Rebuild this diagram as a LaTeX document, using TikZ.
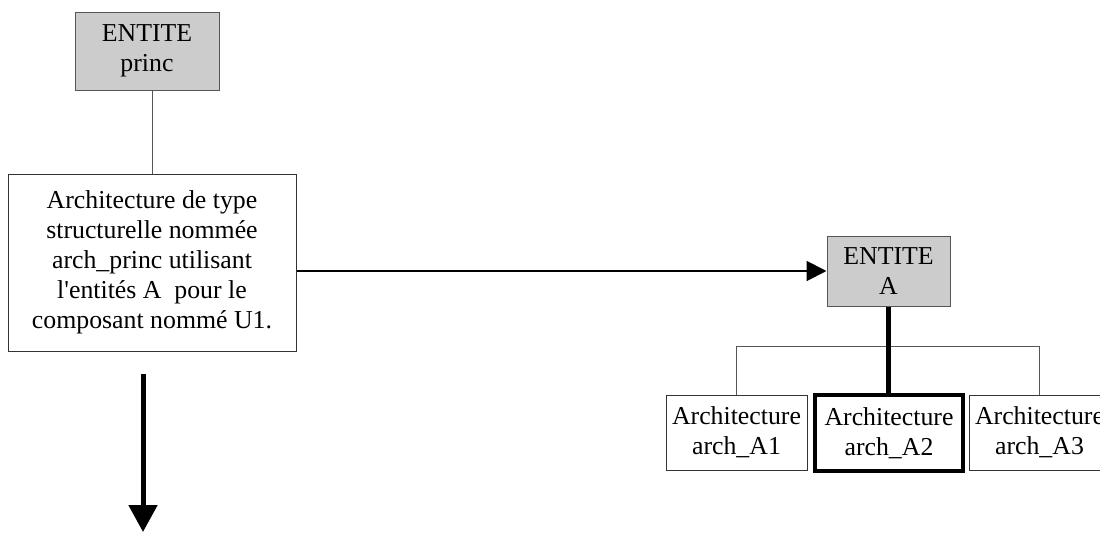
\documentclass[tikz,border=0pt]{standalone}
\usepackage{fontspec}
\setmainfont{Liberation Serif}[Ligatures=TeXOff]
\usepackage{tikz}
\usetikzlibrary{arrows.meta,positioning,calc}

\definecolor{entgray}{HTML}{CCCCCC}
\definecolor{edgegray}{HTML}{555555}

\tikzset{
  entite/.style={draw=edgegray,line width=0.5pt,fill=entgray,align=center,inner sep=0pt},
  archi/.style={draw=black!80,line width=0.5pt,fill=white,align=center,inner sep=0pt},
  archsel/.style={draw=black,line width=2pt,fill=white,align=center,inner sep=0pt},
  lien/.style={draw=edgegray,line width=0.5pt}
}

\begin{document}
\begin{tikzpicture}[x=0.5pt,y=0.5pt,font=\fontsize{12.9}{15}\selectfont]
\useasboundingbox (0,0) rectangle (1100,532);

% Entites
\node[entite,minimum width=72pt,minimum height=39pt] (princ) at (147,481) {ENTITE\\princ};
\node[entite,minimum width=61.5pt,minimum height=35pt] (entA) at (888.5,261) {ENTITE\\A};

% Architecture principale
\node[archi,minimum width=144pt,minimum height=88.5pt] (archp) at (152,269.5)
  {Architecture de type\\structurelle nomm\'ee\\arch\_princ utilisant\\l'entit\'es A\ \ pour le\\composant nomm\'e U1.};

% Architectures de A
\node[archi,minimum width=70.5pt,minimum height=37.5pt] (archA1) at (736.5,99.5) {Architecture\\arch\_A1};
\node[archsel,minimum width=74pt,minimum height=38pt] (archA2) at (889,99) {Architecture\\arch\_A2};
\node[archi,minimum width=70.5pt,minimum height=37.5pt] (archA3) at (1039.5,99.5) {Architecture\\arch\_A3};

% Liens
\draw[lien] (archp.north) -- (archp.north |- princ.south);
\draw[line width=1pt,-{Triangle[length=10pt,width=10pt]}] (archp.east |- entA.west) -- (entA.west);
\draw[lien] (archA1.north) -- ++(0,48) -| (archA3.north);
\draw[line width=2.5pt] (entA.south) -- (entA.south |- archA2.north);

% Fleche vers le bas
\coordinate (bas0) at (143,158);
\coordinate (bas1) at (143,0);
\draw[line width=2.5pt,-{Triangle[length=13.5pt,width=14pt]}] (bas0) -- (bas1);
\end{tikzpicture}
\end{document}
